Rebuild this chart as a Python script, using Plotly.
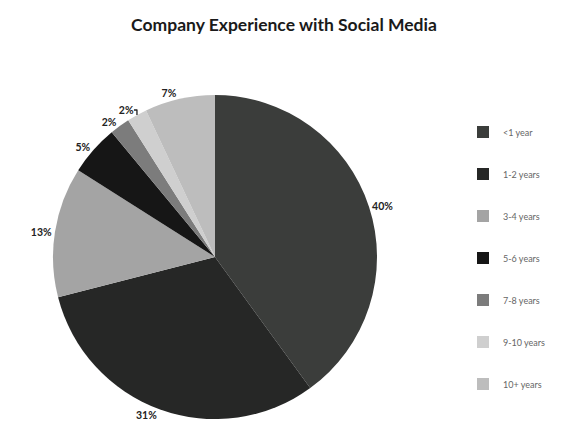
import plotly.graph_objects as go

# Years of social media experience and share of companies (%)
categories = ["<1 year", "1-2 years", "3-4 years", "5-6 years", "7-8 years", "9-10 years", "10+ years"]
shares = [40, 31, 13, 5, 2, 2, 7]
colors = ["#3b3d3b", "#262726", "#a4a4a4", "#161616", "#7c7c7c", "#cfcfcf", "#bdbdbd"]

W, H = 561, 434

# Legend entries get a blank line above and below so the rows are spaced out
# while the label stays centred on its swatch.
legend_labels = [f" <br><span style='font-size:9px'>{c}</span><br> " for c in categories]

fig = go.Figure(
    go.Pie(
        labels=legend_labels,
        values=shares,
        customdata=categories,
        sort=False,
        direction="clockwise",
        rotation=0,
        marker=dict(colors=colors, line=dict(width=0)),
        texttemplate="%{value}%",
        textposition="outside",
        textfont=dict(family="Lato", size=10.5, color="#222222", weight="bold"),
        hovertemplate="%{customdata}: %{value}%<extra></extra>",
        domain=dict(x=[53 / W, 377 / W], y=[1 - 419 / H, 1 - 95 / H]),
    )
)

fig.update_layout(
    width=W,
    height=H,
    margin=dict(l=0, r=0, t=0, b=0),
    paper_bgcolor="white",
    plot_bgcolor="white",
    title=dict(
        text="<b>Company Experience with Social Media</b>",
        x=284 / W,
        xanchor="center",
        y=1 - 25 / H,
        yanchor="middle",
        font=dict(family="Lato", size=17.5, color="#1a1a1a"),
    ),
    legend=dict(
        x=463 / W,
        xanchor="left",
        y=1 - 106 / H,
        yanchor="top",
        valign="middle",
        font=dict(family="Lato", size=10, color="#666666"),
        itemclick=False,
        bgcolor="rgba(0,0,0,0)",
    ),
)

fig.write_html("out.html")
